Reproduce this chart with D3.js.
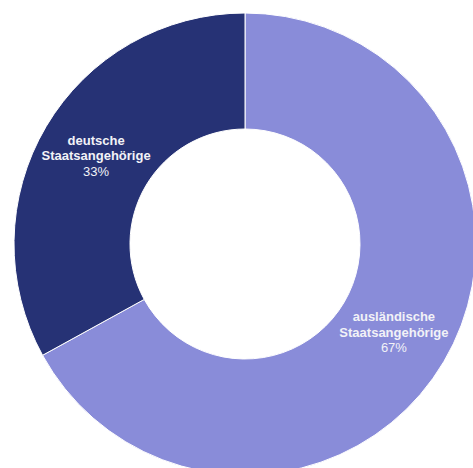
<!DOCTYPE html>
<html><head><meta charset="utf-8">
<script src="https://cdn.jsdelivr.net/npm/d3@7"></script>
<style>html,body{margin:0;padding:0;background:#fff;}</style>
</head><body>
<svg id="c" width="473" height="468"></svg>
<script>
const categories = ["ausländische Staatsangehörige", "deutsche Staatsangehörige"];
const labelLines = [["ausländische", "Staatsangehörige"], ["deutsche", "Staatsangehörige"]];
const values = [67, 33];
const colors = ["#898cd9", "#263275"];

const svg = d3.select("#c");
const cx = 245, cy = 244, R = 231, r = 115;
const g = svg.append("g").attr("transform", `translate(${cx},${cy})`);
const pie = d3.pie().sort(null).value(d => d)(values);
const arc = d3.arc().innerRadius(r).outerRadius(R);
g.selectAll("path").data(pie).join("path")
  .attr("d", arc).attr("fill", (d, i) => colors[i])
  .attr("stroke", "#fff").attr("stroke-width", 1);

const total = d3.sum(values);
const lab = g.selectAll("text").data(pie).join("text")
  .attr("transform", d => `translate(${arc.centroid(d)})`)
  .attr("text-anchor", "middle")
  .attr("font-family", "Liberation Sans, Arial, sans-serif")
  .attr("font-size", 13).attr("fill", "#f2f2f7");
lab.each(function(d, i) {
  const t = d3.select(this);
  labelLines[i].forEach((l, k) => {
    t.append("tspan").attr("x", 0).attr("y", -15.5 + k * 15.5 + 4.5)
      .attr("font-weight", "bold").text(l);
  });
  t.append("tspan").attr("x", 0).attr("y", 15.5 + 4.5)
    .text(Math.round(d.data / total * 100) + "%");
});
</script>
</body></html>
